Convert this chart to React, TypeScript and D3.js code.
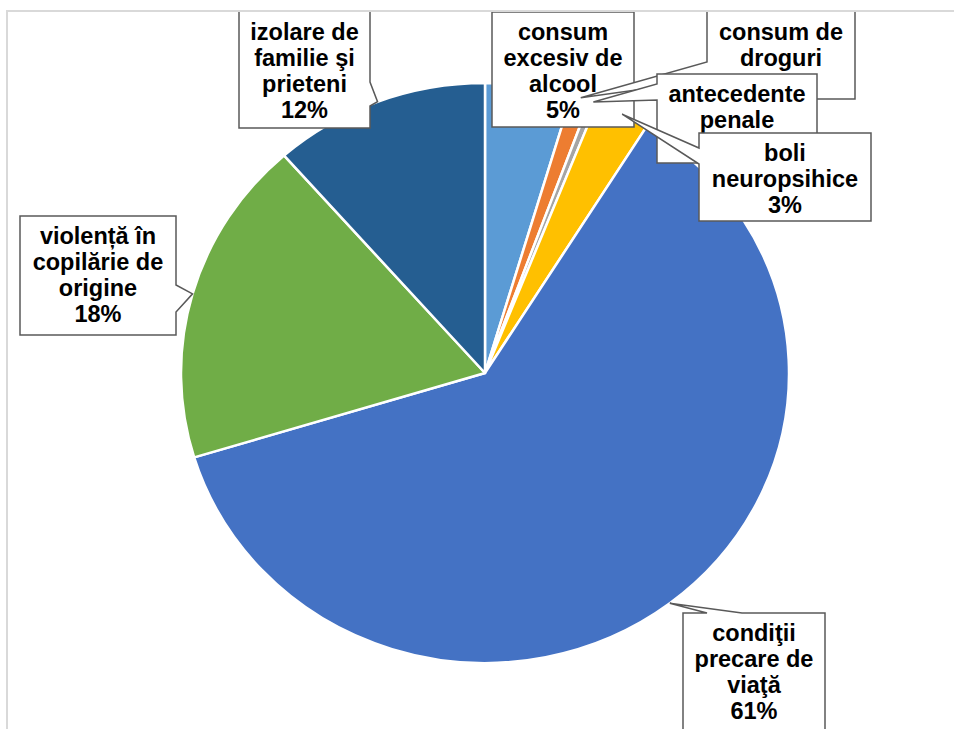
import React from "react";
import * as d3 from "d3";

const categories = [
  "consum excesiv de alcool",
  "consum de droguri",
  "antecedente penale",
  "boli neuropsihice",
  "condiţii precare de viaţă",
  "violență în copilărie de origine",
  "izolare de familie şi prieteni",
];
const values = [4.6, 1.0, 0.4, 2.9, 61.4, 18.2, 11.5];
const labelLines = [
  ["consum", "excesiv de", "alcool"],
  ["consum de", "droguri"],
  ["antecedente", "penale"],
  ["boli", "neuropsihice"],
  ["condiţii", "precare de", "viaţă"],
  ["violență în", "copilărie de", "origine"],
  ["izolare de", "familie şi", "prieteni"],
];
// percentage label visible in the reference (others are hidden behind neighbouring boxes)
const showPercent = [true, false, false, true, true, true, true];
const colors = ["#5b9bd5", "#ed7d31", "#a5a5a5", "#ffc000", "#4472c4", "#70ad47", "#255e91"];

// label box layout: [left, top, right, bottom], pointer edge and base span
type Box = { l: number; t: number; r: number; b: number; edge: string; p0: number; p1: number };
const boxes: Box[] = [
  { l: 492, t: 12, r: 634, b: 127, edge: "none", p0: 0, p1: 0 },
  { l: 707, t: 4, r: 855, b: 99, edge: "left", p0: 62, p1: 80 },
  { l: 657, t: 74, r: 817, b: 163, edge: "left", p0: 84, p1: 100 },
  { l: 699, t: 133, r: 871, b: 221, edge: "left", p0: 148, p1: 164 },
  { l: 683, t: 613, r: 825, b: 760, edge: "top", p0: 707, p1: 742 },
  { l: 20, t: 216, r: 176, b: 335, edge: "right", p0: 285, p1: 312 },
  { l: 239, t: 4, r: 370, b: 128, edge: "right", p0: 82, p1: 106 },
];
const textTops = [12, 12, 74, 133, 613, 216, 12];

const W = 954;
const H = 729;
const cx = 485;
const cy = 373;
const ry = 290;
const rx = 304;

function calloutPath(bx: Box, tip: [number, number]) {
  const { l, t, r, b, edge, p0, p1 } = bx;
  const [tx, ty] = tip;
  let pts: [number, number][];
  if (edge === "left") {
    pts = [[l, t], [r, t], [r, b], [l, b], [l, p1], [tx, ty], [l, p0]];
  } else if (edge === "right") {
    pts = [[l, t], [r, t], [r, p0], [tx, ty], [r, p1], [r, b], [l, b]];
  } else if (edge === "top") {
    pts = [[l, t], [p0, t], [tx, ty], [p1, t], [r, t], [r, b], [l, b]];
  } else {
    pts = [[l, t], [r, t], [r, b], [l, b]];
  }
  return "M" + pts.map((p) => p.join(",")).join("L") + "Z";
}

export default function App() {
  const pie = d3.pie<number>().sort(null).value((d) => d)(values);
  const arc = d3.arc<d3.PieArcDatum<number>>().innerRadius(0).outerRadius(ry);
  const fs = 23.5;
  const lh = 26;

  return (
    <svg
      width={W}
      height={H}
      style={{ position: "absolute", left: 0, top: 0, background: "#fff" }}
      fontFamily="'Liberation Sans', Arial, sans-serif"
    >
      <defs>
        <clipPath id="plotclip">
          <rect x={7} y={12} width={W} height={H} />
        </clipPath>
      </defs>
      <rect x={0} y={0} width={W} height={H} fill="#fff" />
      <g transform={`translate(${cx},${cy}) scale(${rx / ry},1)`}>
        {pie.map((d, i) => (
          <path
            key={categories[i]}
            d={arc(d) || ""}
            fill={colors[i]}
            stroke="#fff"
            strokeWidth={2.5}
            vectorEffect="non-scaling-stroke"
            strokeLinejoin="round"
          />
        ))}
      </g>
      <g clipPath="url(#plotclip)">
        {pie.map((d, i) => {
          const a = (d.startAngle + d.endAngle) / 2;
          const tip: [number, number] = [cx + rx * Math.sin(a), cy - ry * Math.cos(a)];
          const bx = boxes[i];
          const lines = showPercent[i]
            ? [...labelLines[i], `${Math.round(values[i])}%`]
            : labelLines[i];
          const mx = (bx.l + bx.r) / 2;
          return (
            <g key={categories[i]}>
              <path
                d={calloutPath(bx, tip)}
                fill="#fff"
                stroke="#595959"
                strokeWidth={1.5}
                strokeLinejoin="miter"
              />
              {lines.map((ln, j) => (
                <text
                  key={j}
                  x={mx}
                  y={textTops[i] + 20 + j * lh}
                  dy="0.36em"
                  textAnchor="middle"
                  fontSize={fs}
                  fontWeight="bold"
                  fill="#000"
                >
                  {ln}
                </text>
              ))}
            </g>
          );
        })}
      </g>
      <path d={`M7,${H}V11H${W}`} fill="none" stroke="#d9d9d9" strokeWidth={2} />
    </svg>
  );
}
